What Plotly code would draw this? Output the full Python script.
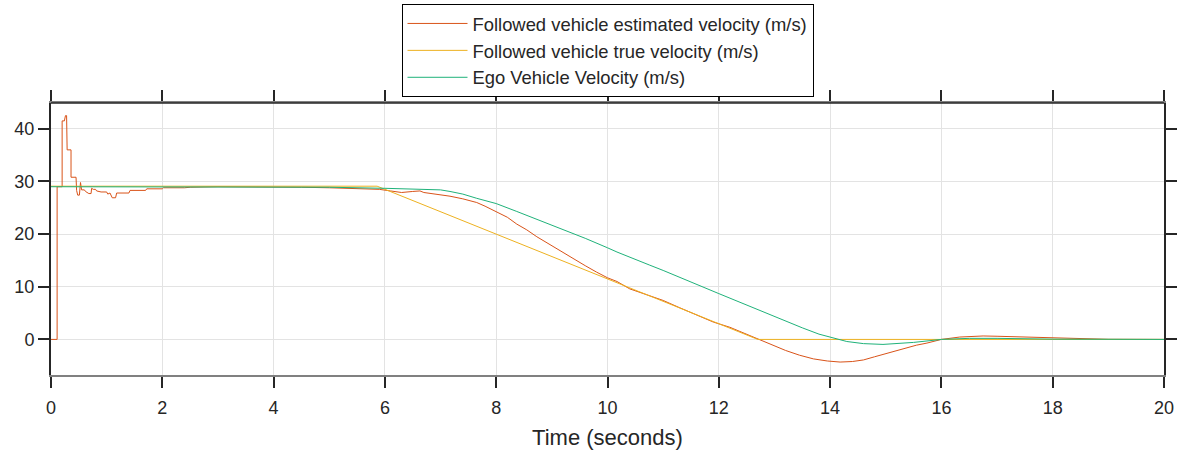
import plotly.graph_objects as go

# ---- data ----
t_est = [0, 0.11, 0.11, 0.2, 0.2, 0.24, 0.26, 0.28, 0.29, 0.36, 0.36, 0.45, 0.46, 0.48, 0.51,
         0.53, 0.55, 0.6, 0.62, 0.68, 0.72, 0.73, 0.76, 0.8, 0.82, 0.9, 1.0, 1.02, 1.06, 1.1,
         1.16, 1.18, 1.4, 1.42, 1.7, 1.72, 2.0, 2.02, 2.4, 2.5, 3.0, 4.0, 4.5, 5.0, 5.5, 5.9,
         6.1, 6.3, 6.5, 6.63, 6.7, 6.9, 7.17, 7.4, 7.65, 7.8, 8.0, 8.2, 8.37, 8.55, 8.73, 8.9,
         9.09, 9.25, 9.45, 9.6, 9.8, 10.0, 10.17, 10.4, 10.7, 11.0, 11.3, 11.66, 11.9, 12.2,
         12.45, 12.7, 13.0, 13.2, 13.45, 13.7, 13.95, 14.18, 14.4, 14.6, 14.8, 15.0, 15.2,
         15.37, 15.55, 15.74, 16.0, 16.33, 16.75, 17.0, 17.35, 17.7, 18.0, 18.5, 19.0, 20.0]
v_est = [0, 0, 29, 29, 41.5, 41.5, 42.5, 42.5, 36, 36, 30.8, 30.8, 28.3, 27.4, 27.4,
         29.8, 28.4, 28.4, 28.1, 27.7, 27.7, 28.7, 28.5, 28.5, 28.2, 28.0, 28.0, 27.6, 27.8, 26.9,
         26.9, 27.8, 27.8, 28.3, 28.3, 28.6, 28.6, 28.8, 28.8, 28.9, 29.0, 29.0, 28.9, 28.8, 28.6, 28.5,
         28.2, 27.9, 28.1, 28.2, 27.9, 27.6, 27.2, 26.7, 26.0, 25.3, 24.3, 23.2, 21.9, 20.8, 19.5, 18.4,
         17.3, 16.2, 15.0, 14.0, 12.8, 11.7, 11.0, 9.6, 8.5, 7.4, 6.0, 4.3, 3.3, 2.3,
         1.2, 0.1, -1.3, -2.1, -3.0, -3.7, -4.1, -4.3, -4.2, -3.9, -3.3, -2.7, -2.1,
         -1.5, -1.1, -0.7, 0.0, 0.45, 0.65, 0.6, 0.5, 0.35, 0.25, 0.1, 0.02, 0.0]

t_true = [0, 5.86, 12.7, 20]
v_true = [29.1, 29.1, 0, 0]

t_ego = [0, 4, 5, 6, 6.5, 7, 7.17, 7.4, 7.65, 8, 8.37, 9, 9.6, 10, 10.17, 10.76, 11, 12, 13,
         13.5, 13.8, 14, 14.3, 14.6, 14.95, 15.5, 16, 16.5, 17, 18, 20]
v_ego = [29.0, 29.0, 28.9, 28.7, 28.6, 28.4, 28.1, 27.6, 26.8, 25.8, 24.3, 21.7, 19.2, 17.4, 16.6,
         14.1, 13.1, 8.7, 4.3, 2.2, 1.0, 0.4, -0.4, -0.8, -0.95, -0.57, 0.0, 0.2, 0.2, 0.05, 0.0]

x_ticks = [0, 2, 4, 6, 8, 10, 12, 14, 16, 18, 20]
y_ticks = [0, 10, 20, 30, 40]

names = ["Followed vehicle estimated velocity (m/s)",
         "Followed vehicle true velocity (m/s)",
         "Ego Vehicle Velocity (m/s)"]
colors = ["#D95319", "#EDB120", "#1FB27A"]

fig = go.Figure()
fig.add_trace(go.Scatter(x=t_est, y=v_est, mode="lines", name=names[0],
                         line=dict(color=colors[0], width=1)))
fig.add_trace(go.Scatter(x=t_true, y=v_true, mode="lines", name=names[1],
                         line=dict(color=colors[1], width=1)))
fig.add_trace(go.Scatter(x=t_ego, y=v_ego, mode="lines", name=names[2],
                         line=dict(color=colors[2], width=1)))

dark = "#262626"
fig.update_layout(
    width=1184, height=453,
    margin=dict(l=51, r=20, t=103, b=78, autoexpand=False),
    paper_bgcolor="white", plot_bgcolor="white",
    font=dict(family="Liberation Sans, Arial, sans-serif", color=dark, size=18),
    legend=dict(x=0.5, xanchor="center", y=1.364, yanchor="top",
                bordercolor="#000000", borderwidth=1, bgcolor="white",
                font=dict(size=18.4), itemwidth=60, tracegroupgap=0),
    xaxis=dict(range=[0, 20], tickvals=x_ticks, ticktext=[str(v) for v in x_ticks],
               showgrid=True, gridcolor="#e3e3e3", gridwidth=1, automargin=False,
               showline=True, linecolor="#808080", linewidth=1.5, mirror="ticks",
               ticks="outside", ticklen=11, tickwidth=2, tickcolor=dark,
               zeroline=False, tickfont=dict(size=18, color=dark), ticklabelstandoff=5,
               title=dict(text="Time (seconds)", font=dict(size=22, color=dark), standoff=12)),
    yaxis=dict(range=[-6.76, 44.9], tickvals=y_ticks, ticktext=[str(v) for v in y_ticks],
               showgrid=True, gridcolor="#e3e3e3", gridwidth=1, automargin=False,
               showline=True, linecolor=dark, linewidth=2, mirror="ticks",
               ticks="outside", ticklen=11, tickwidth=2, tickcolor=dark,
               zeroline=False, tickfont=dict(size=18, color=dark)),
    showlegend=True,
)
# darker top border line of the axes box
fig.add_shape(type="line", xref="paper", yref="paper", x0=0, x1=1, y0=1, y1=1,
              line=dict(color=dark, width=1.5), layer="above")

fig.write_html("out.html")
